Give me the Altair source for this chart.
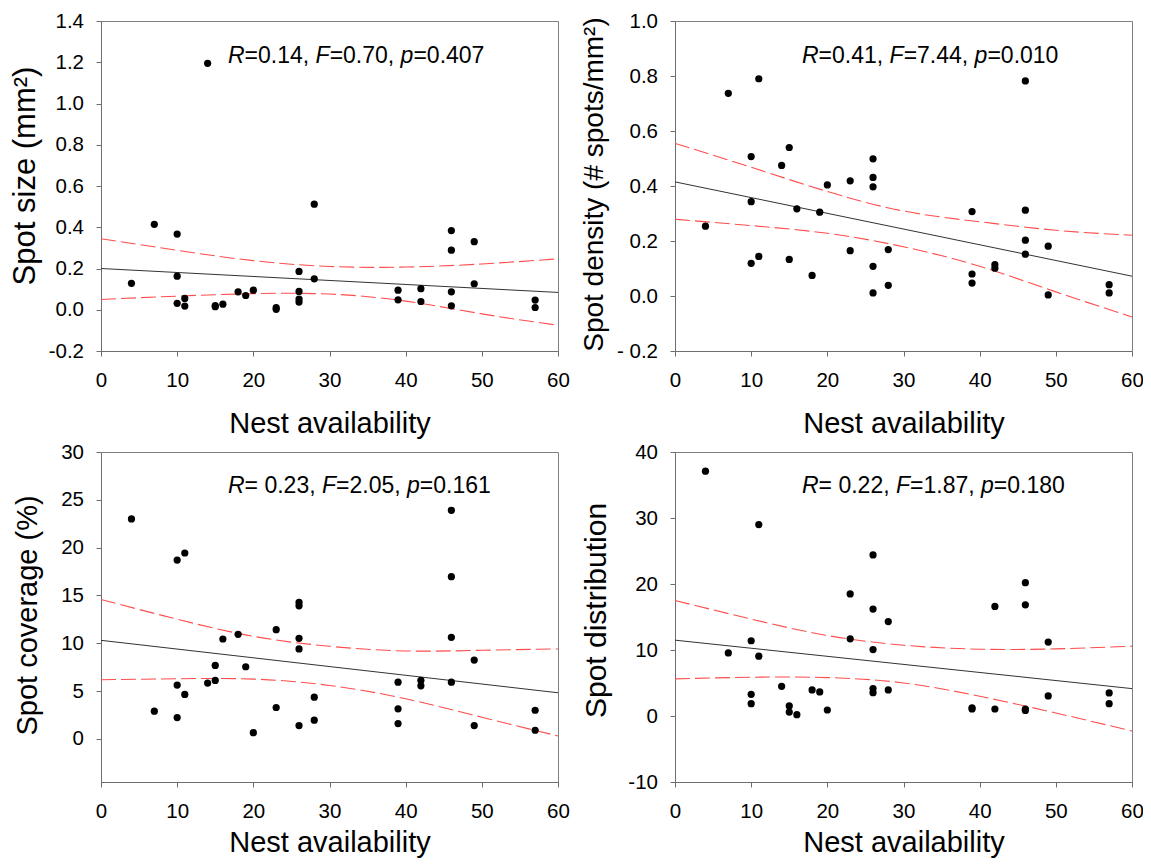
import altair as alt
import pandas as pd

FONT = "Liberation Sans"

# ---------------- data ----------------
# Panel A: spot size (mm2)
size_x = [4, 7, 10, 10, 10, 11, 11, 14, 15, 15, 16, 18, 19, 20, 23, 23, 26, 26, 26, 26,
          28, 28, 39, 39, 42, 42, 46, 46, 46, 46, 49, 49, 57, 57]
size_y = [0.128, 0.414, 0.367, 0.163, 0.031, 0.055, 0.018, 1.195, 0.015, 0.020, 0.027,
          0.087, 0.069, 0.095, 0.010, 0.002, 0.186, 0.089, 0.052, 0.037, 0.512, 0.150,
          0.095, 0.048, 0.102, 0.040, 0.384, 0.289, 0.087, 0.019, 0.330, 0.126, 0.047, 0.011]

# Panel B: spot density (# spots/mm2)
dens_x = [4, 7, 10, 10, 10, 11, 11, 14, 15, 15, 16, 18, 19, 20, 23, 23, 26, 26, 26, 26, 26,
          28, 28, 39, 39, 39, 42, 42, 46, 46, 46, 46, 49, 49, 57, 57]
dens_y = [0.254, 0.737, 0.507, 0.343, 0.119, 0.790, 0.144, 0.475, 0.540, 0.133, 0.317,
          0.075, 0.305, 0.404, 0.419, 0.165, 0.499, 0.431, 0.397, 0.108, 0.011, 0.169,
          0.039, 0.307, 0.080, 0.047, 0.114, 0.101, 0.782, 0.312, 0.203, 0.152, 0.181,
          0.004, 0.041, 0.011]

# Panel C: spot coverage (%)
cov_x = [4, 7, 10, 10, 10, 11, 11, 14, 15, 15, 16, 18, 19, 20, 23, 23, 26, 26, 26, 26, 26,
         28, 28, 39, 39, 39, 42, 42, 46, 46, 46, 46, 49, 49, 57, 57]
cov_y = [23.0, 2.9, 18.7, 5.63, 2.24, 19.44, 4.65, 5.84, 7.69, 6.12, 10.45, 10.94, 7.55,
         0.66, 11.43, 3.29, 14.27, 13.92, 10.52, 9.41, 1.40, 4.37, 1.96, 5.94, 3.15, 1.61,
         6.12, 5.56, 23.9, 16.96, 10.63, 5.94, 8.25, 1.40, 3.0, 0.91]

# Panel D: spot distribution
dist_x = [4, 7, 10, 10, 10, 11, 11, 14, 15, 15, 16, 18, 19, 20, 23, 23, 26, 26, 26, 26, 26,
          28, 28, 39, 39, 42, 42, 46, 46, 46, 46, 49, 49, 57, 57]
dist_y = [37.1, 9.56, 11.4, 3.29, 1.87, 29.0, 9.06, 4.5, 1.52, 0.6, 0.2, 3.95, 3.64, 0.91,
          18.5, 11.7, 24.4, 16.2, 10.07, 4.15, 3.54, 14.3, 3.95, 1.06, 1.25, 16.6, 1.06,
          20.2, 16.85, 1.06, 0.85, 11.2, 3.04, 3.49, 1.87]

# regression lines (end points) and 95% confidence limits read at x = 0..60
fit_x = [0, 60]
size_fit = [0.200, 0.084]
dens_fit = [0.415, 0.072]
cov_fit = [10.31, 4.83]
dist_fit = [11.49, 4.15]

ci_x = [0, 10, 20, 30, 40, 50, 60]
size_up = [0.344, 0.288, 0.238, 0.210, 0.207, 0.222, 0.247]
size_lo = [0.050, 0.066, 0.078, 0.076, 0.042, -0.020, -0.075]
dens_up = [0.555, 0.468, 0.380, 0.309, 0.270, 0.239, 0.221]
dens_lo = [0.279, 0.256, 0.228, 0.179, 0.108, 0.015, -0.076]
cov_up = [14.58, 12.52, 10.73, 9.69, 9.20, 9.27, 9.41]
cov_lo = [6.19, 6.29, 6.26, 5.59, 4.20, 2.27, 0.31]
dist_up = [17.5, 14.68, 12.2, 10.73, 10.12, 10.17, 10.58]
dist_lo = [5.62, 5.87, 5.82, 5.01, 2.99, 0.46, -2.28]

# statistics text: (segment, italic?)
size_stat = [("R", True), ("=0.14, ", False), ("F", True), ("=0.70, ", False), ("p", True), ("=0.407", False)]
dens_stat = [("R", True), ("=0.41, ", False), ("F", True), ("=7.44, ", False), ("p", True), ("=0.010", False)]
cov_stat = [("R", True), ("= 0.23, ", False), ("F", True), ("=2.05, ", False), ("p", True), ("=0.161", False)]
dist_stat = [("R", True), ("= 0.22, ", False), ("F", True), ("=1.87, ", False), ("p", True), ("=0.180", False)]

y_titles = ["Spot size (mm\u00b2)", "Spot density (# spots/mm\u00b2)", "Spot coverage (%)", "Spot distribution"]
x_title = "Nest availability"

# ---------------- layout / style ----------------
W, H = 457, 330
STAT_SIZE = 23
LABEL_SIZE = 20.5
AXIS_GRAY = "#6e6e6e"

# Arial / Liberation Sans advance widths (1/1000 em)
ADV = {"R": 722, "F": 611, "p": 556, "=": 584, ".": 278, ",": 278, " ": 278}
for d in "0123456789":
    ADV[d] = 556


def text_width(s, size):
    return sum(ADV.get(c, 556) for c in s) * size / 1000.0


def stat_layers(segments, x0, baseline):
    layers = []
    x = x0
    for seg, ital in segments:
        layers.append(
            alt.Chart(pd.DataFrame({"t": [seg]}))
            .mark_text(align="left", baseline="alphabetic", font=FONT, fontSize=STAT_SIZE,
                       fontStyle="italic" if ital else "normal", color="black")
            .encode(x=alt.value(x), y=alt.value(baseline), text="t:N")
        )
        x += text_width(seg, STAT_SIZE)
    return layers


def panel(px, py, fy, up, lo, ydom, yticks, yfmt, neg, ytitle, tsize, tpad, ty, stat, sbase,
          xtpad):
    xs = alt.Scale(domain=[0, 60], nice=False, zero=False)
    ys = alt.Scale(domain=ydom, nice=False, zero=False)
    xax = alt.Axis(values=[0, 10, 20, 30, 40, 50, 60], title=x_title, format="d",
                   titlePadding=xtpad)
    label_expr = ("datum.value < 0 ? '%s' + format(-datum.value, '%s') : format(datum.value, '%s')"
                  % (neg, yfmt, yfmt))
    yargs = dict(values=yticks, title=ytitle, labelExpr=label_expr, titlePadding=tpad,
                 titleFontSize=tsize)
    if ty is not None:
        yargs["titleY"] = ty
    yax = alt.Axis(**yargs)

    pts = pd.DataFrame({"x": px, "y": py})
    fit = pd.DataFrame({"x": fit_x, "y": fy})
    ci = pd.DataFrame({"x": ci_x * 2, "y": up + lo,
                       "band": ["upper"] * len(ci_x) + ["lower"] * len(ci_x)})

    fit_line = alt.Chart(fit).mark_line(color="#333333", strokeWidth=1).encode(
        x=alt.X("x:Q", scale=xs, axis=xax), y=alt.Y("y:Q", scale=ys, axis=yax))
    ci_lines = alt.Chart(ci).mark_line(color="#ff4d4d", strokeWidth=1.1, strokeDash=[15, 5],
                                        interpolate="natural").encode(
        x=alt.X("x:Q", scale=xs, axis=xax), y=alt.Y("y:Q", scale=ys, axis=yax),
        detail="band:N")
    dots = alt.Chart(pts).mark_circle(color="black", opacity=1, size=52).encode(
        x=alt.X("x:Q", scale=xs, axis=xax), y=alt.Y("y:Q", scale=ys, axis=yax))

    return alt.layer(fit_line, ci_lines, dots, *stat_layers(stat, 127, sbase)).properties(
        width=W, height=H)


p1 = panel(size_x, size_y, fy=size_fit, up=size_up, lo=size_lo,
           ydom=[-0.2, 1.4], yticks=[-0.2, 0, 0.2, 0.4, 0.6, 0.8, 1.0, 1.2, 1.4], yfmt=".1f",
           neg="-", ytitle=y_titles[0], tsize=31, tpad=7, ty=154.5, stat=size_stat, sbase=42,
           xtpad=18.5)
p2 = panel(dens_x, dens_y, fy=dens_fit, up=dens_up, lo=dens_lo,
           ydom=[-0.2, 1.0], yticks=[-0.2, 0, 0.2, 0.4, 0.6, 0.8, 1.0], yfmt=".1f",
           neg="- ", ytitle=y_titles[1], tsize=28, tpad=8, ty=163, stat=dens_stat, sbase=42,
           xtpad=18.5)
p3 = panel(cov_x, cov_y, fy=cov_fit, up=cov_up, lo=cov_lo,
           ydom=[-4.5, 30], yticks=[0, 5, 10, 15, 20, 25, 30], yfmt="d",
           neg="-", ytitle=y_titles[2], tsize=29, tpad=18, ty=163, stat=cov_stat, sbase=41,
           xtpad=7)
p4 = panel(dist_x, dist_y, fy=dist_fit, up=dist_up, lo=dist_lo,
           ydom=[-10, 40], yticks=[-10, 0, 10, 20, 30, 40], yfmt="d",
           neg="-", ytitle=y_titles[3], tsize=30, tpad=16.5, ty=158, stat=dist_stat, sbase=41,
           xtpad=7)

# whole page: 1151 x 867 with 8px body margin -> svg 1135 x 851; plot A starts at (101, 21)
PAD_LEFT, PAD_TOP = 93, 13
chart = (
    alt.concat(p1, p2, p3, p4, columns=2, spacing={"row": 101, "column": 117}, bounds="flush")
    .properties(
        autosize=alt.AutoSizeParams(type="none"),
        padding={"left": PAD_LEFT, "top": PAD_TOP, "right": 1135 - PAD_LEFT, "bottom": 851 - PAD_TOP},
    )
    .configure(font=FONT)
    .configure_view(stroke="#7f7f7f", strokeWidth=1)
    .configure_axis(
        labelFont=FONT, titleFont=FONT, labelFontSize=LABEL_SIZE, titleFontSize=29,
        labelColor="black", titleColor="black", titleFontWeight="normal",
        domainColor=AXIS_GRAY, tickColor=AXIS_GRAY, tickSize=5, grid=False,
    )
    .configure_axisX(labelPadding=14, labelFlush=False)
    .configure_axisY(labelPadding=12.5)
)

chart.save("out.html", embed_options={"renderer": "svg", "actions": False})
